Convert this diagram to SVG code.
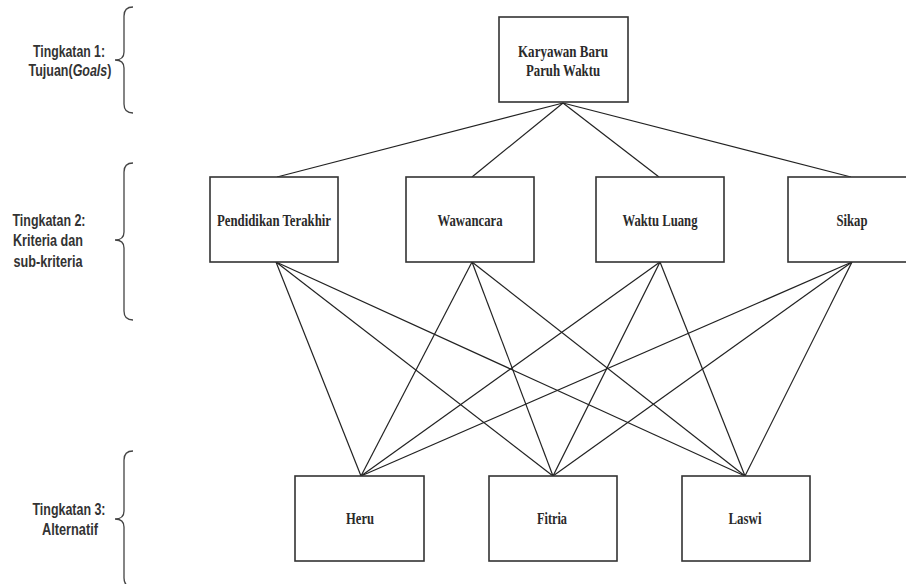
<svg xmlns="http://www.w3.org/2000/svg" width="906" height="584" viewBox="0 0 906 584">
<style>
.box{fill:#fff;stroke:#333;stroke-width:1.6}
.nt{font-family:"Liberation Serif","Times New Roman",serif;font-weight:bold;font-size:17px;fill:#2a2a2a;text-anchor:middle}
.lt{font-family:"Liberation Sans",Arial,sans-serif;font-weight:bold;font-size:16px;fill:#333;text-anchor:middle}
.br{fill:none;stroke:#444;stroke-width:1.3}
#connectors line{stroke:#222;stroke-width:1.2}
</style>
<rect width="906" height="584" fill="#fff"/>
<g id="levels">
<path class="br" d="M133,7 Q124,7 124,16 L124,52 Q124,60 115,60 Q124,60 124,68 L124,104 Q124,113 133,113"/>
<text class="lt" x="69" y="57" textLength="72" lengthAdjust="spacingAndGlyphs">Tingkatan 1:</text>
<text class="lt" transform="translate(70,76) scale(0.78,1)" x="0" y="0">Tujuan(<tspan font-style="italic">Goals</tspan>)</text>
<path class="br" d="M133,163 Q124,163 124,172 L124,232 Q124,240 115,240 Q124,240 124,248 L124,311 Q124,320 133,320"/>
<text class="lt" x="49" y="226" textLength="73" lengthAdjust="spacingAndGlyphs">Tingkatan 2:</text>
<text class="lt" x="48" y="246" textLength="70" lengthAdjust="spacingAndGlyphs">Kriteria dan</text>
<text class="lt" x="48" y="267" textLength="69" lengthAdjust="spacingAndGlyphs">sub-kriteria</text>
<path class="br" d="M133,451 Q124,451 124,460 L124,511 Q124,519 115,519 Q124,519 124,527 L124,578 Q124,587 133,587"/>
<text class="lt" x="69" y="515" textLength="73" lengthAdjust="spacingAndGlyphs">Tingkatan 3:</text>
<text class="lt" x="70" y="535" textLength="56" lengthAdjust="spacingAndGlyphs">Alternatif</text>
</g>
<g id="connectors">
<line x1="563" y1="103" x2="277" y2="177"/>
<line x1="563" y1="103" x2="472" y2="177"/>
<line x1="563" y1="103" x2="659" y2="177"/>
<line x1="563" y1="103" x2="851" y2="177"/>
<line x1="276" y1="262" x2="361" y2="476"/>
<line x1="276" y1="262" x2="553" y2="476"/>
<line x1="276" y1="262" x2="745" y2="476"/>
<line x1="472" y1="262" x2="361" y2="476"/>
<line x1="472" y1="262" x2="553" y2="476"/>
<line x1="472" y1="262" x2="745" y2="476"/>
<line x1="660" y1="262" x2="361" y2="476"/>
<line x1="660" y1="262" x2="553" y2="476"/>
<line x1="660" y1="262" x2="745" y2="476"/>
<line x1="852" y1="262" x2="361" y2="476"/>
<line x1="852" y1="262" x2="553" y2="476"/>
<line x1="852" y1="262" x2="745" y2="476"/>
</g>
<g id="goal">
<rect class="box" x="499" y="17" width="129" height="85"/>
<text class="nt" x="563" y="57" textLength="90" lengthAdjust="spacingAndGlyphs">Karyawan Baru</text>
<text class="nt" x="563" y="76" textLength="74" lengthAdjust="spacingAndGlyphs">Paruh Waktu</text>
</g>
<g id="pendidikan">
<rect class="box" x="210" y="177" width="128" height="85"/>
<text class="nt" x="274" y="226" textLength="114" lengthAdjust="spacingAndGlyphs">Pendidikan Terakhir</text>
</g>
<g id="wawancara">
<rect class="box" x="406" y="177" width="128" height="85"/>
<text class="nt" x="470" y="226" textLength="65" lengthAdjust="spacingAndGlyphs">Wawancara</text>
</g>
<g id="waktu">
<rect class="box" x="596" y="177" width="128" height="85"/>
<text class="nt" x="660" y="226" textLength="75" lengthAdjust="spacingAndGlyphs">Waktu Luang</text>
</g>
<g id="sikap">
<rect class="box" x="788" y="177" width="128" height="85"/>
<text class="nt" x="852" y="226" textLength="31" lengthAdjust="spacingAndGlyphs">Sikap</text>
</g>
<g id="heru">
<rect class="box" x="295" y="476" width="129" height="85"/>
<text class="nt" x="360" y="524" textLength="28" lengthAdjust="spacingAndGlyphs">Heru</text>
</g>
<g id="fitria">
<rect class="box" x="489" y="476" width="128" height="85"/>
<text class="nt" x="552" y="524" textLength="30" lengthAdjust="spacingAndGlyphs">Fitria</text>
</g>
<g id="laswi">
<rect class="box" x="682" y="476" width="128" height="85"/>
<text class="nt" x="745" y="524" textLength="33" lengthAdjust="spacingAndGlyphs">Laswi</text>
</g>
</svg>
